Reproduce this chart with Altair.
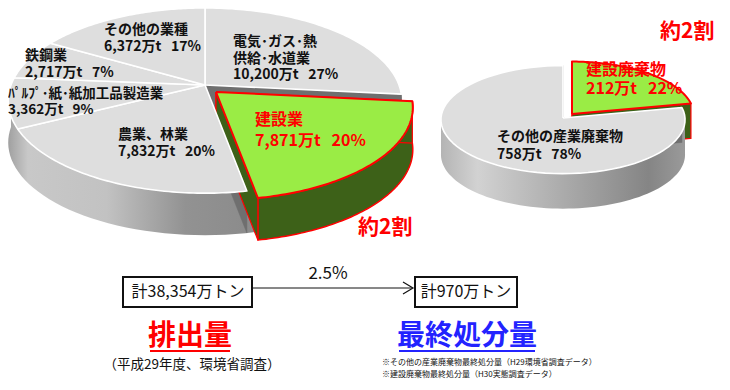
import altair as alt
import pandas as pd

# ---------------- data ----------------
emit_categories = ["電気・ガス・熱供給・水道業", "建設業", "農業、林業",
                   "パルプ・紙・紙加工品製造業", "鉄鋼業", "その他の業種"]
emit_values = [10200, 7871, 7832, 3362, 2717, 6372]      # 万t
emit_pcts = [27, 20, 20, 9, 7, 17]
emit_explode = [0, 1, 0, 0, 0, 0]

disp_categories = ["建設廃棄物", "その他の産業廃棄物"]
disp_values = [212, 758]                                   # 万t
disp_pcts = [22, 78]
disp_explode = [1, 0]

emit_total = 38354
disp_total = 970
disposal_ratio = "2.5%"

# label lines (display names)
emit_names = [["電気･ガス･熱", "供給･水道業"], ["建設業"], ["農業、林業"],
              ["ﾊﾟﾙﾌﾟ･紙･紙加工品製造業"], ["鉄鋼業"], ["その他の業種"]]
disp_names = [["建設廃棄物"], ["その他の産業廃棄物"]]

# ---------------- layout (page pixels) ----------------
W, H = 712, 372
XS = alt.Scale(domain=[8, 8 + W], nice=False, zero=False)
YS = alt.Scale(domain=[8, 8 + H], nice=False, zero=False, reverse=True)
N = 72
FONT = "Noto Sans CJK JP"

LEFT = dict(cx=205, cy=85, rx=194, ry=90, k=0.168, depth=42, sx=11, sy=7, green_front=True,
            stops=[(0, "#a0a0a0"), (0.05, "#c8c8c8"), (0.25, "#c2c2c2"),
                   (0.45, "#929292"), (0.65, "#8a8a8a"), (1, "#6e6e6e")])
RIGHT = dict(cx=563, cy=118, rx=122, ry=54, k=0.03, depth=35, sx=9, sy=-4, green_front=False,
             stops=[(0, "#b4b4b4"), (0.15, "#d2d2d2"), (0.5, "#ababab"),
                    (0.85, "#858585"), (1, "#9a9a9a")])

GRAY_TOP = "#dedede"
GREEN_TOP = "#9aec45"
GREEN_SIDE = "#3d6118"
RED = "#ff0000"
BLUE = "#2323ff"


def enc(ch, **kw):
    return ch.encode(
        x=alt.X("x:Q", scale=XS, axis=None),
        y=alt.Y("y:Q", scale=YS, axis=None),
        **kw,
    )


def with_xy(c, P):
    den = f"(1 + {P['k']}*datum.rr*cos(datum.ang))"
    return c.transform_calculate(
        x=f"{P['cx']} + {P['rx']}*datum.rr*sin(datum.ang)/{den} + {P['sx']}*datum.sh",
        y=f"{P['cy']} - {P['ry']}*datum.rr*cos(datum.ang)/{den} + {P['sy']}*datum.sh + datum.dz",
    )


def base(cats, vals, expl):
    df = pd.DataFrame({"cat": cats, "value": vals, "explode": expl,
                       "order": list(range(len(cats)))})
    return alt.Chart(df).transform_joinaggregate(total="sum(value)").transform_window(
        cum="sum(value)", sort=[alt.SortField("order", order="ascending")], frame=[None, 0]
    ).transform_calculate(
        a0="2*PI*(datum.cum - datum.value)/datum.total",
        a1="2*PI*datum.cum/datum.total",
    )


def tops(P, b, ex, fill, stroke, sw):
    c = b.transform_filter(f"datum.explode == {ex}").transform_calculate(
        idx=f"sequence(0, {N + 3})").transform_flatten(["idx"]).transform_calculate(
        rr=f"(datum.idx == 0 || datum.idx == {N + 2}) ? 0 : 1",
        ang=f"datum.a0 + (datum.a1 - datum.a0)*clamp((datum.idx - 1)/{N}, 0, 1)",
        dz="0",
        sh="datum.explode",
    )
    c = with_xy(c, P)
    return enc(c.mark_line(fill=fill, stroke=stroke, strokeWidth=sw, strokeJoin="round"),
               order=alt.Order("idx:Q"), detail="cat:N")


def rim(P, b, filt, b0, b1, sh, fill, stroke, sw, sop=1.0):
    c = b.transform_filter(filt).transform_calculate(b0=b0, b1=b1).transform_filter(
        "datum.b1 > datum.b0").transform_calculate(
        idx=f"sequence(0, {2 * N + 2})").transform_flatten(["idx"]).transform_calculate(
        rr="1",
        ang=(f"datum.idx <= {N} ? datum.b0 + (datum.b1 - datum.b0)*datum.idx/{N}"
             f" : datum.b0 + (datum.b1 - datum.b0)*({2 * N + 1} - datum.idx)/{N}"),
        dz=f"datum.idx <= {N} ? 0 : {P['depth']}",
        sh=sh,
    )
    c = with_xy(c, P)
    return enc(c.mark_line(fill=fill, stroke=stroke, strokeWidth=sw, strokeOpacity=sop,
                           strokeJoin="round"),
               order=alt.Order("idx:Q"), detail="cat:N")


def faces(P, b, sh, fill, stroke, sw, sop=1.0):
    c = b.transform_filter("datum.explode == 1").transform_fold(
        ["a0", "a1"], as_=["edge", "fa"]).transform_calculate(
        idx="sequence(0, 5)").transform_flatten(["idx"]).transform_calculate(
        rr="(datum.idx == 1 || datum.idx == 2) ? 1 : 0",
        ang="datum.fa",
        dz=f"(datum.idx == 2 || datum.idx == 3) ? {P['depth']} : 0",
        sh=sh,
    )
    c = with_xy(c, P)
    return enc(c.mark_line(fill=fill, stroke=stroke, strokeWidth=sw, strokeOpacity=sop,
                           strokeJoin="round"),
               order=alt.Order("idx:Q"), detail="edge:N")


def pie(P, cats, vals, expl):
    b = base(cats, vals, expl)
    grad = alt.LinearGradient(
        gradient="linear", x1=0, x2=1, y1=0, y2=0,
        stops=[alt.GradientStop(offset=o, color=c) for o, c in P["stops"]])
    gray_side = [
        rim(P, b, "datum.order == 0", "PI/2", "3*PI/2", "0", grad, "#ffffff", 0, 0),
        faces(P, b, "0", "#6f6f6f", "#6f6f6f", 0.5),
    ]
    green_side = [
        rim(P, b, "datum.explode == 1", "max(datum.a0, PI/2)", "min(datum.a1, 3*PI/2)",
            "1", GREEN_SIDE, RED, 1.5),
        faces(P, b, "1", GREEN_SIDE, RED, 1.2),
    ]
    sides = gray_side + green_side if P["green_front"] else green_side + gray_side
    return sides + [
        tops(P, b, 0, GRAY_TOP, "#ffffff", 1.6),
        tops(P, b, 1, GREEN_TOP, RED, 2),
    ]


# ---------------- annotations ----------------
GAP = "\u00a0\u00a0\u00a0"


def vtxt(v, p):
    return f"{v:,}万t{GAP}{p}%"


# label anchor layout: (left x, first-line y, line step, size, color)
emit_lab_pos = [(233, 42, 16.5, 14, "#111111"), (255, 120, 21, 16, RED),
                (118, 135, 17, 14, "#111111"), (8, 94, 16, 13.5, "#111111"),
                (25, 56, 17, 14, "#111111"), (104, 30, 17, 14, "#111111")]
disp_lab_pos = [(586, 70, 19, 16, RED), (497, 137, 18, 14, "#111111")]

rows_bold = []
for names, v, p, (lx, ly, st, sz, col) in zip(emit_names, emit_values, emit_pcts, emit_lab_pos):
    lines = names + [vtxt(v, p)]
    for i, t in enumerate(lines):
        rows_bold.append(dict(t=t, x=lx, y=ly + i * st, s=sz, c=col, a="left"))
for names, v, p, (lx, ly, st, sz, col) in zip(disp_names, disp_values, disp_pcts, disp_lab_pos):
    lines = names + [vtxt(v, p)]
    for i, t in enumerate(lines):
        rows_bold.append(dict(t=t, x=lx, y=ly + i * st, s=sz, c=col, a="left"))
rows_bold += [
    dict(t="約2割", x=358, y=228, s=21, c=RED, a="left"),
    dict(t="約2割", x=660, y=32, s=21, c=RED, a="left"),
    dict(t="排出量", x=190, y=337, s=28, c=RED, a="center"),
    dict(t="最終処分量", x=467, y=337, s=28, c=BLUE, a="center"),
]
rows_norm = [
    dict(t=f"計{emit_total:,}万トン", x=188, y=292, s=16, c="#111111", a="center"),
    dict(t=f"計{disp_total:,}万トン", x=466, y=292, s=16, c="#111111", a="center"),
    dict(t=disposal_ratio, x=328, y=274, s=17, c="#111111", a="center"),
    dict(t="（平成29年度、環境省調査）", x=192, y=365, s=13.5, c="#111111", a="center"),
    dict(t="※その他の産業廃棄物最終処分量（H29環境省調査データ）", x=382, y=363, s=8,
         c="#111111", a="left"),
    dict(t="※建設廃棄物最終処分量（H30実態調査データ）", x=382, y=375, s=8,
         c="#111111", a="left"),
]


def text_layer(rows, weight):
    layers = []
    for al in ["left", "center"]:
        sub = [r for r in rows if r["a"] == al]
        if not sub:
            continue
        ch = alt.Chart(pd.DataFrame(sub)).mark_text(
            font=FONT, fontWeight=weight, align=al, baseline="middle")
        layers.append(enc(ch, text="t:N", size=alt.Size("s:Q", scale=None),
                          color=alt.Color("c:N", scale=None)))
    return layers


boxes = pd.DataFrame([dict(x=123, x2=252, y=277, y2=307), dict(x=415, x2=517, y=277, y2=307)])
box_layer = alt.Chart(boxes).mark_rect(fill="white", stroke="#111111", strokeWidth=2).encode(
    x=alt.X("x:Q", scale=XS, axis=None), x2="x2:Q",
    y=alt.Y("y:Q", scale=YS, axis=None), y2="y2:Q")

lines_df = pd.DataFrame([
    dict(x=252, x2=412, y=288, c="#111111", w=1),
    dict(x=150, x2=230, y=351, c=RED, w=2),
    dict(x=399, x2=535, y=351, c=BLUE, w=2),
])
rule_layer = alt.Chart(lines_df).mark_rule().encode(
    x=alt.X("x:Q", scale=XS, axis=None), x2="x2:Q",
    y=alt.Y("y:Q", scale=YS, axis=None),
    color=alt.Color("c:N", scale=None),
    strokeWidth=alt.StrokeWidth("w:Q", scale=None))

arrow_df = pd.DataFrame([dict(x=413, y=288)])
arrow_layer = alt.Chart(arrow_df).mark_point(
    shape="M-2,-1.2L0,0L-2,1.2", size=100, filled=False, stroke="#111111",
    strokeWidth=1.2, opacity=1).encode(
    x=alt.X("x:Q", scale=XS, axis=None), y=alt.Y("y:Q", scale=YS, axis=None))

layers = (pie(LEFT, emit_categories, emit_values, emit_explode)
          + pie(RIGHT, disp_categories, disp_values, disp_explode)
          + [box_layer, rule_layer, arrow_layer]
          + text_layer(rows_bold, "bold") + text_layer(rows_norm, "normal"))

chart = alt.layer(*layers).properties(
    width=W, height=H, padding=0, autosize=alt.AutoSizeParams(type="none"),
    background="white",
).configure_view(strokeWidth=0)

chart.save("out.html", embed_options={"renderer": "svg", "actions": False})
